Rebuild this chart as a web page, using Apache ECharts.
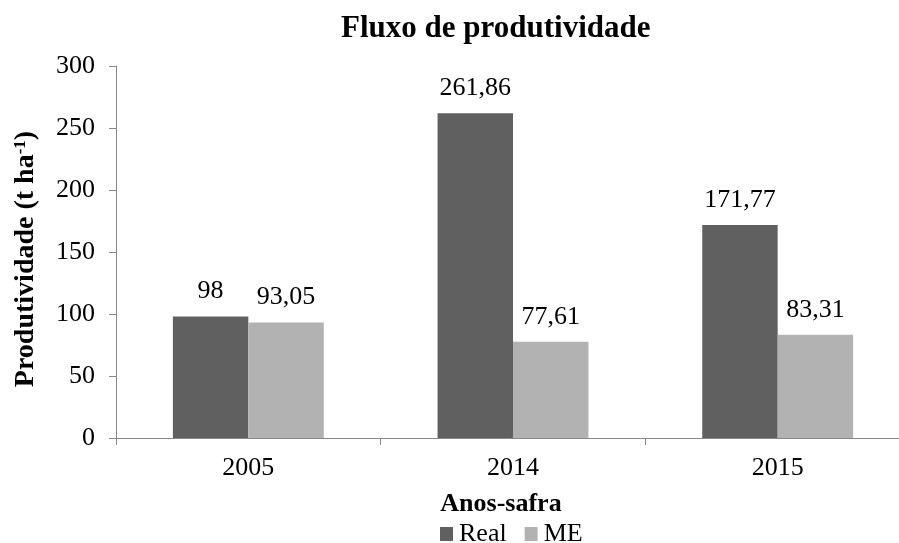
<!DOCTYPE html>
<html>
<head>
<meta charset="utf-8">
<script src="https://cdn.jsdelivr.net/npm/echarts@6/dist/echarts.min.js"></script>
<style>
html, body { margin: 0; padding: 0; background: #fff; }
#main { width: 899px; height: 543px; }
</style>
</head>
<body>
<div id="main"></div>
<script>
const anos = ['2005', '2014', '2015'];
const real = [98, 261.86, 171.77];
const me = [93.05, 77.61, 83.31];
const yTicks = [0, 50, 100, 150, 200, 250, 300];

const chart = echarts.init(document.getElementById('main'));
const font = '"Liberation Serif", "Times New Roman", serif';

// 98 -> "98", 93.05 -> "93,05"
function fmt(p) {
    return String(p.value).replace('.', ',');
}

const option = {
    animation: false,
    textStyle: { fontFamily: font },
    title: {
        text: 'Fluxo de produtividade',
        left: 336,
        top: 8,
        textStyle: { fontFamily: font, fontSize: 31, fontWeight: 'bold', color: '#000' }
    },
    legend: {
        data: ['Real', 'ME'],
        top: 516,
        left: 435,
        itemWidth: 13,
        itemHeight: 14,
        itemGap: 18,
        icon: 'rect',
        textStyle: { fontFamily: font, fontSize: 26, color: '#000', padding: [0, 0, 0, 1] }
    },
    // the last category runs past the right edge in the original
    grid: { left: 116, right: -11, top: 66, bottom: 105, containLabel: false, outerBoundsMode: 'none' },
    xAxis: {
        type: 'category',
        data: anos,
        name: 'Anos-safra',
        nameLocation: 'middle',
        nameGap: 53,
        nameTextStyle: { fontFamily: font, fontSize: 26, fontWeight: 'bold', color: '#000', padding: [0, 24, 0, 0] },
        axisLine: { lineStyle: { color: '#888888', width: 1 } },
        axisTick: { show: true, length: 7, lineStyle: { color: '#888888' } },
        axisLabel: { fontFamily: font, fontSize: 26, color: '#000', margin: 17 }
    },
    yAxis: {
        type: 'value',
        min: yTicks[0],
        max: yTicks[yTicks.length - 1],
        interval: 50,
        name: '{a|Produtividade (t ha}{s|-1}{a|)}',
        nameLocation: 'middle',
        nameGap: 76,
        nameTextStyle: {
            padding: [0, 14, 0, 0],
            rich: {
                a: { fontFamily: font, fontSize: 28, fontWeight: 'bold', color: '#000' },
                s: { fontFamily: font, fontSize: 17, fontWeight: 'bold', color: '#000', verticalAlign: 'top', padding: [0, 0, 10, 0] }
            }
        },
        splitLine: { show: false },
        axisLine: { show: true, lineStyle: { color: '#888888', width: 1 } },
        axisTick: { show: true, length: 7, lineStyle: { color: '#888888' } },
        axisLabel: { fontFamily: font, fontSize: 26, color: '#000', margin: 21 }
    },
    series: [
        {
            name: 'Real',
            type: 'bar',
            data: real,
            barGap: '0%',
            barCategoryGap: '43%',
            itemStyle: { color: '#606060' },
            label: { show: true, position: 'top', distance: 12, fontFamily: font, fontSize: 26, color: '#000', formatter: fmt }
        },
        {
            name: 'ME',
            type: 'bar',
            data: me,
            itemStyle: { color: '#b2b2b2' },
            label: { show: true, position: 'top', distance: 12, fontFamily: font, fontSize: 26, color: '#000', formatter: fmt }
        }
    ]
};

chart.setOption(option);
</script>
</body>
</html>
